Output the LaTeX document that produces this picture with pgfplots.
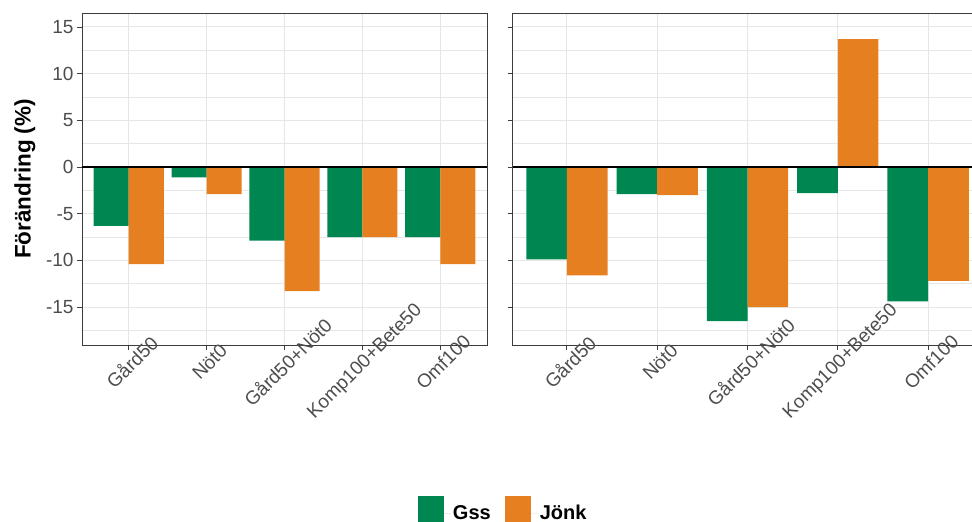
\documentclass[border=0pt]{standalone}
\usepackage{fontspec}
\setmainfont{Liberation Sans}
\usepackage{pgfplots}
\pgfplotsset{compat=1.18}

\definecolor{gss}{RGB}{0,134,80}
\definecolor{jonk}{RGB}{230,127,32}
\definecolor{gridgray}{RGB}{230,230,230}
\definecolor{framegray}{RGB}{60,60,60}
\definecolor{ticktext}{RGB}{77,77,77}

\pgfplotsset{
  facet/.style={
    scale only axis, height=332pt,
    ymin=-19.07, ymax=16.5,
    xmin=0.4, xmax=5.6,
    xtick={1,...,5},
    xticklabels={Gård50, Nöt0, Gård50+Nöt0, Komp100+Bete50, Omf100},
    ytick={-15,-10,...,15},
    minor ytick={-17.5,-12.5,...,12.5},
    minor tick length=0pt,
    tick align=outside, major tick length=5pt,
    xtick pos=left, ytick pos=left,
    grid=both,
    major grid style={gridgray, line width=1pt},
    minor grid style={gridgray, line width=0.5pt},
    axis line style={framegray, line width=0.9pt},
    tick style={framegray, line width=0.9pt},
    ticklabel style={font=\fontsize{19}{22}\selectfont, text=ticktext},
    /pgf/number format/assume math mode=true,
    xticklabel style={font=\fontsize{19}{22}\selectfont,
      xshift=3pt, yshift=-12pt, rotate=45, anchor=center},
    ybar, bar width=0.45,
  },
}

\begin{document}
\begin{tikzpicture}
\useasboundingbox (0,0) rectangle (972pt,522pt);

% left panel
\begin{axis}[facet,
  at={(82pt,177pt)}, anchor=south west, width=405pt,
  ylabel={Förändring (\%)},
  ylabel style={font=\bfseries\fontsize{22.5}{26}\selectfont,
    at={(axis description cs:-0.141,0.5)}, anchor=center},
  legend columns=2,
  legend style={draw=none, fill=none,
    at={(axis description cs:1.04,-0.496)}, anchor=center,
    font=\bfseries\fontsize{20}{22}\selectfont,
    /tikz/every even column/.append style={column sep=12pt}},
  legend image code/.code={
    \fill[#1] (0pt,-9pt) rectangle (26pt,17pt);
    \path (0pt,0pt) -- (33pt,0pt);},
]
\addplot[fill=gss, draw=none, bar shift=-0.225]
  coordinates {(1,-6.3) (2,-1.1) (3,-7.9) (4,-7.5) (5,-7.5)};
\addplot[fill=jonk, draw=none, bar shift=0.225]
  coordinates {(1,-10.4) (2,-2.9) (3,-13.3) (4,-7.5) (5,-10.4)};
\addplot[black, line width=1.4pt, sharp plot, forget plot]
  coordinates {(0.4,0) (5.6,0)};
\legend{Gss, Jönk}
\end{axis}

% right panel
\begin{axis}[facet,
  at={(512.7pt,177pt)}, anchor=south west, width=469.6pt,
  yticklabels={},
]
\addplot[fill=gss, draw=none, bar shift=-0.225]
  coordinates {(1,-9.9) (2,-2.9) (3,-16.5) (4,-2.8) (5,-14.4)};
\addplot[fill=jonk, draw=none, bar shift=0.225]
  coordinates {(1,-11.6) (2,-3.0) (3,-15.0) (4,13.7) (5,-12.2)};
\addplot[black, line width=1.4pt, sharp plot, forget plot]
  coordinates {(0.4,0) (5.6,0)};
\end{axis}
\end{tikzpicture}
\end{document}
